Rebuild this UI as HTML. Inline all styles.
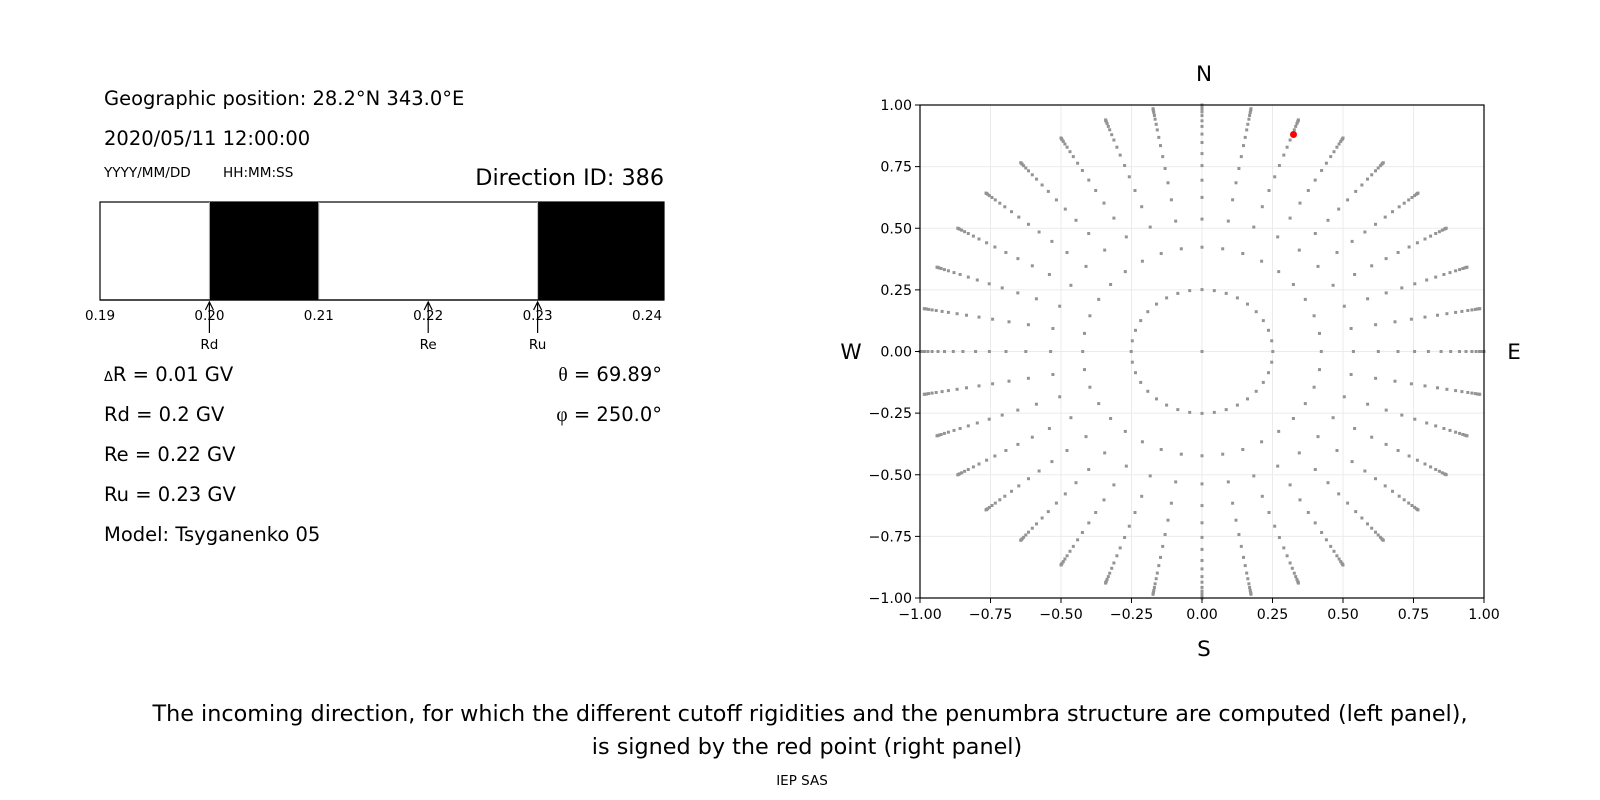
<!DOCTYPE html>
<html><head><meta charset="utf-8"><style>
html,body{margin:0;padding:0;background:#fff;}
svg{display:block;font-family:"DejaVu Sans","Liberation Sans",sans-serif;}
</style></head><body>
<svg id="s" width="1600" height="800" viewBox="0 0 1600 800" xmlns="http://www.w3.org/2000/svg">
<rect width="1600" height="800" fill="#fff"/>
<text x="104" y="105" font-size="19.5">Geographic position: 28.2°N 343.0°E</text>
<text x="104" y="145" font-size="19.5">2020/05/11 12:00:00</text>
<text x="104" y="177" font-size="13.6">YYYY/MM/DD</text>
<text x="223" y="177" font-size="13.6">HH:MM:SS</text>
<text x="664" y="185" font-size="22.3" text-anchor="end">Direction ID: 386</text>
<rect x="100" y="202" width="564" height="98" fill="#fff" stroke="#000" stroke-width="1.2"/>
<rect x="209.4" y="202" width="109.4" height="98" fill="#000"/>
<rect x="537.6" y="202" width="126.4" height="98" fill="#000"/>
<line x1="209.4" y1="202" x2="209.4" y2="300" stroke="#bbb" stroke-width="1"/>
<line x1="318.8" y1="202" x2="318.8" y2="300" stroke="#bbb" stroke-width="1"/>
<line x1="537.6" y1="202" x2="537.6" y2="300" stroke="#bbb" stroke-width="1"/>
<line x1="100" y1="300" x2="664" y2="300" stroke="#000" stroke-width="1.2"/>
<g font-size="13.5" text-anchor="middle">
<text x="100" y="320">0.19</text><text x="209.4" y="320">0.20</text><text x="318.8" y="320">0.21</text>
<text x="428.2" y="320">0.22</text><text x="537.6" y="320">0.23</text><text x="647" y="320">0.24</text>
</g>
<g stroke="#000" stroke-width="1.2" fill="none">
<line x1="209.4" y1="302" x2="209.4" y2="333"/><polyline points="205.4,310 209.4,302 213.4,310"/>
<line x1="428.2" y1="302" x2="428.2" y2="333"/><polyline points="424.2,310 428.2,302 432.2,310"/>
<line x1="537.6" y1="302" x2="537.6" y2="333"/><polyline points="533.6,310 537.6,302 541.6,310"/>
</g>
<g font-size="13.5" text-anchor="middle">
<text x="209.4" y="349">Rd</text><text x="428.2" y="349">Re</text><text x="537.6" y="349">Ru</text>
</g>
<g font-size="19.5">
<text x="104" y="381"><tspan font-size="13">Δ</tspan>R = 0.01 GV</text>
<text x="104" y="421">Rd = 0.2 GV</text>
<text x="104" y="461">Re = 0.22 GV</text>
<text x="104" y="501">Ru = 0.23 GV</text>
<text x="104" y="541">Model: Tsyganenko 05</text>
<text x="662" y="381" text-anchor="end"><tspan font-family="Liberation Serif,serif">θ</tspan> = 69.89°</text>
<text x="662" y="421" text-anchor="end"><tspan font-family="Liberation Serif,serif">φ</tspan> = 250.0°</text>
</g>
<g id="grid" stroke="#ebebeb" stroke-width="1"></g>
<g id="dots" fill="#949494"></g>
<circle cx="1293.5" cy="134.5" r="3.5" fill="#ff0000"/>
<rect x="920" y="105" width="564" height="493" fill="none" stroke="#000" stroke-width="1.2"/>
<g id="ticks" font-size="14.2"></g>
<g font-size="21.5" text-anchor="middle">
<text x="1204" y="81">N</text><text x="1204" y="656">S</text>
<text x="851" y="359">W</text><text x="1514" y="359">E</text>
</g>
<g font-size="22.3" text-anchor="middle">
<text x="810" y="721">The incoming direction, for which the different cutoff rigidities and the penumbra structure are computed (left panel),</text>
<text x="807" y="754">is signed by the red point (right panel)</text>
</g>
<text x="802" y="785" font-size="13.5" text-anchor="middle">IEP SAS</text>
</svg>
<script>
(function(){
var NS="http://www.w3.org/2000/svg";
var cx=1202,cy=351.5,sx=282,sy=246.5;
var grid=document.getElementById('grid'),dots=document.getElementById('dots'),ticks=document.getElementById('ticks');
function el(p,t,a,txt){var e=document.createElementNS(NS,t);for(var k in a)e.setAttribute(k,a[k]);if(txt!=null)e.textContent=txt;p.appendChild(e);return e;}
var vals=[-1,-0.75,-0.5,-0.25,0,0.25,0.5,0.75,1];
vals.forEach(function(v){
 var x=cx+v*sx,y=cy-v*sy;
 el(grid,'line',{x1:x,y1:105,x2:x,y2:598});
 el(grid,'line',{x1:920,y1:y,x2:1484,y2:y});
 el(ticks,'line',{x1:x,y1:598,x2:x,y2:603,stroke:'#000','stroke-width':1});
 el(ticks,'line',{x1:915,y1:y,x2:920,y2:y,stroke:'#000','stroke-width':1});
 var s=(v<0?'\u2212':'')+Math.abs(v).toFixed(2);
 el(ticks,'text',{x:x,y:619,'text-anchor':'middle'},s);
 el(ticks,'text',{x:912,y:y+5,'text-anchor':'end'},s);
});
var R=[0.251,0.423,0.537,0.625,0.695,0.754,0.803,0.848,0.882,0.913,0.936,0.957,0.972,0.984,0.992,0.997,1.0];
el(dots,'rect',{x:cx-1.5,y:cy-1.5,width:3,height:3});
for(var a=0;a<360;a+=10){
 var t=a*Math.PI/180;
 R.forEach(function(r){
  var x=cx+r*Math.sin(t)*sx,y=cy-r*Math.cos(t)*sy;
  el(dots,'rect',{x:(x-1.5).toFixed(1),y:(y-1.5).toFixed(1),width:3,height:3});
 });
}
})();
</script>
</body></html>
